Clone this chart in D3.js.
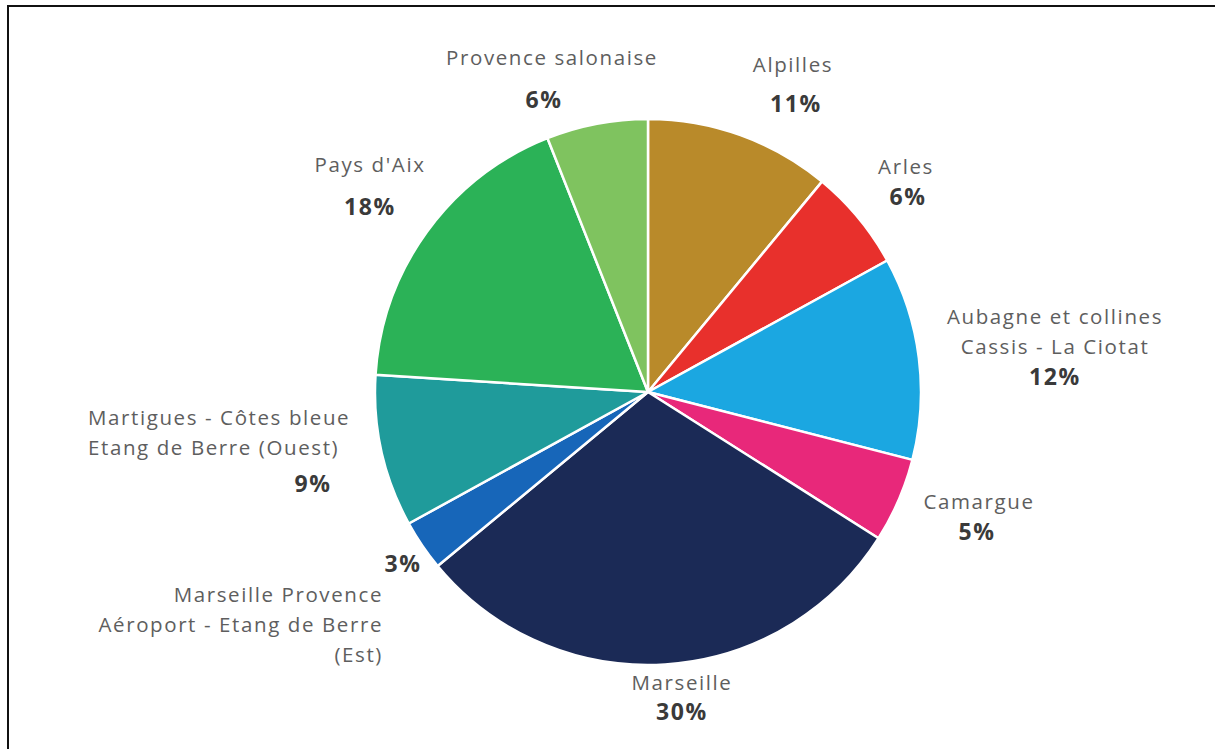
<!DOCTYPE html>
<html>
<head>
<meta charset="utf-8">
<script src="https://cdn.jsdelivr.net/npm/d3@7"></script>
<style>
  body { margin: 0; background: #fff; }
  svg { display: block; }
  .name { font-family: 'Open Sans', Lato, sans-serif; font-size: 20.5px; letter-spacing: 1.6px; fill: #5e5e5e; }
  .pct { font-family: 'Open Sans', Lato, sans-serif; font-size: 23px; letter-spacing: 1.6px; font-weight: 700; fill: #3a3a3a; }
</style>
</head>
<body>
<script>
// territories, clockwise from 12 o'clock
const territories = [
  'Alpilles', 'Arles', 'Aubagne et collines|Cassis - La Ciotat', 'Camargue', 'Marseille',
  'Marseille Provence|Aéroport - Etang de Berre|(Est)', 'Martigues - Côtes bleue|Etang de Berre (Ouest)',
  "Pays d'Aix", 'Provence salonaise'
];
const shares = [11, 6, 12, 5, 30, 3, 9, 18, 6];
const colors = ['#b98a2a', '#e8302c', '#1ba7e1', '#e8287a', '#1b2a56', '#1766b9', '#1f9b9b', '#2bb257', '#7fc35f'];

// label layout: name baseline anchor, text-anchor, percentage baseline (relative to pie centre)
const layout = [
  { x: 145, y: -320, anchor: 'middle', px: 148, py: -280 },
  { x: 258, y: -218, anchor: 'middle', px: 260, py: -187 },
  { x: 407, y: -68, anchor: 'middle', px: 407, py: -7 },
  { x: 331, y: 117, anchor: 'middle', px: 329, py: 148 },
  { x: 34, y: 298, anchor: 'middle', px: 34, py: 328 },
  { x: -265, y: 210, anchor: 'end', px: -245, py: 180 },
  { x: -560, y: 33, anchor: 'start', px: -335, py: 100 },
  { x: -278, y: -220, anchor: 'middle', px: -278, py: -177 },
  { x: -96, y: -327, anchor: 'middle', px: -104, py: -284 }
];

const width = 1215, height = 749;
const cx = 648, cy = 392, radius = 273;

const svg = d3.select('body').append('svg')
  .attr('width', width)
  .attr('height', height);

// frame (top and left edges only)
svg.append('line').attr('x1', 7).attr('x2', width).attr('y1', 6).attr('y2', 6)
  .style('stroke', '#111').style('stroke-width', 2);
svg.append('line').attr('x1', 8).attr('x2', 8).attr('y1', 5).attr('y2', height)
  .style('stroke', '#111').style('stroke-width', 2);

const data = territories.map((t, i) => ({ name: t, value: shares[i], color: colors[i], pos: layout[i] }));

const pie = d3.pie().sort(null).value(d => d.value);
const arc = d3.arc().innerRadius(0).outerRadius(radius);

const g = svg.append('g').attr('transform', `translate(${cx},${cy})`);

g.selectAll('path.slice')
  .data(pie(data))
  .enter().append('path')
  .classed('slice', true)
  .attr('d', arc)
  .style('fill', d => d.data.color)
  .style('stroke', '#fff')
  .style('stroke-width', 2.5)
  .style('stroke-linejoin', 'round');

let labels = g.selectAll('g.label')
  .data(data)
  .enter().append('g')
  .classed('label', true);

labels.append('text')
  .classed('name', true)
  .attr('text-anchor', d => d.pos.anchor)
  .each(function (d) {
    let text = d3.select(this);
    d.name.split('|').forEach((line, i) => {
      text.append('tspan')
        .attr('x', d.pos.x)
        .attr('y', d.pos.y + i * 30)
        .text(line);
    });
  });

labels.append('text')
  .classed('pct', true)
  .attr('text-anchor', 'middle')
  .attr('x', d => d.pos.px)
  .attr('y', d => d.pos.py)
  .text(d => `${d.value}%`);
</script>
</body>
</html>
